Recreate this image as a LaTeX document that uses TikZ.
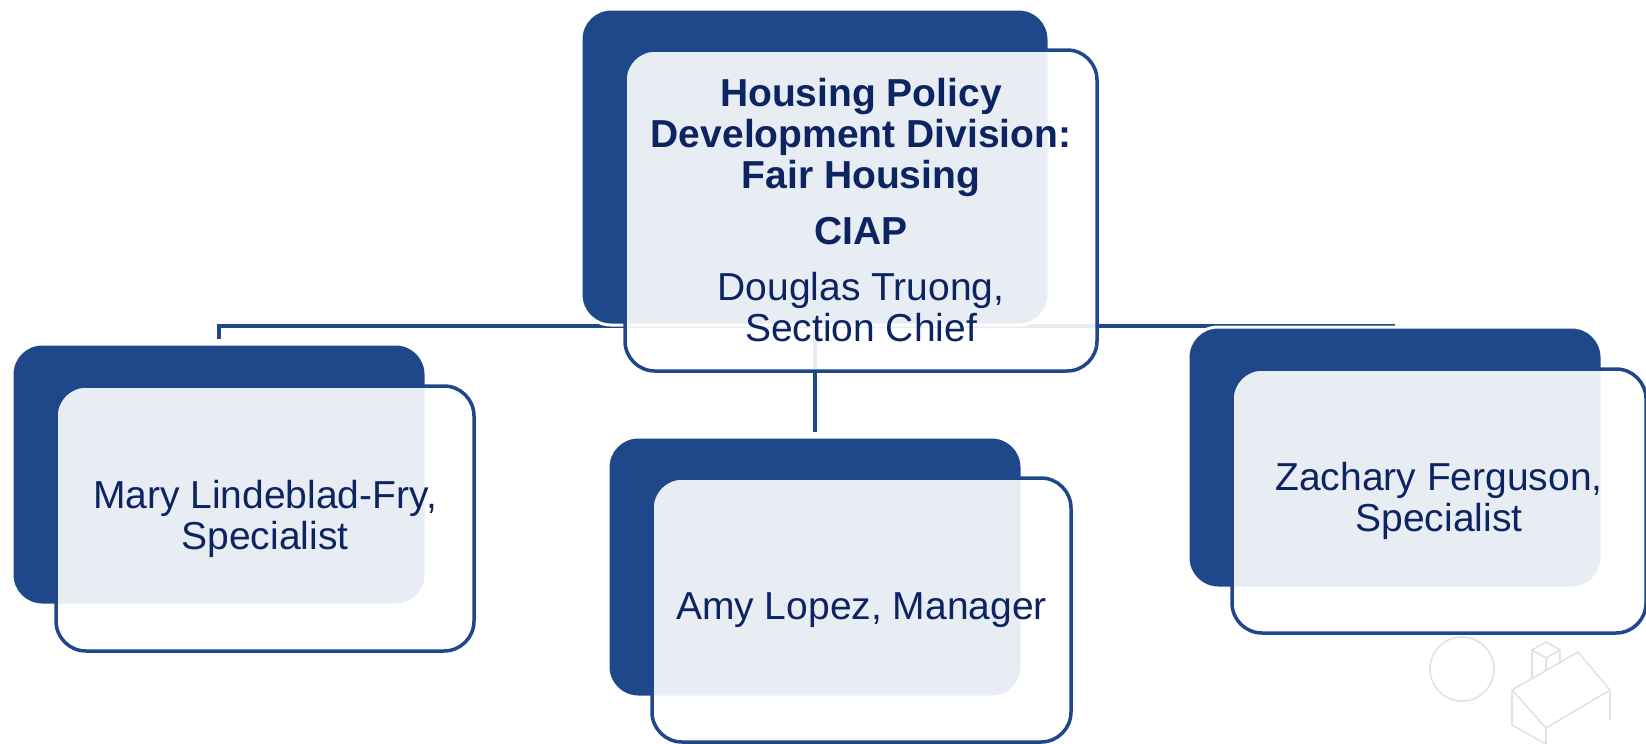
\documentclass[tikz,border=0pt]{standalone}
\usepackage{fontspec}
\setmainfont{Liberation Sans}
\usetikzlibrary{backgrounds}
\definecolor{hblue}{RGB}{30,72,138}
\definecolor{htext}{RGB}{12,36,97}
\definecolor{sketch}{RGB}{226,226,226}
\tikzset{
  backbox/.style={rectangle, rounded corners=30pt, fill=hblue, draw=white,
    line width=3pt, inner sep=0pt},
  frontbox/.style={rectangle, rounded corners=30pt, fill=white, fill opacity=0.9,
    text opacity=1, draw=hblue, line width=3.5pt, text=htext, inner sep=0pt,
    align=center, font=\fontsize{39}{41}\selectfont},
  link/.style={draw=hblue, line width=3.5pt},
  sketchline/.style={draw=sketch, line width=1.6pt}
}
\begin{document}
\begin{tikzpicture}[x=1pt, y=-1pt]
\useasboundingbox (0,0) rectangle (1646,744);

% top: division head
\node[backbox, minimum width=468pt, minimum height=316pt] (topback) at (815,167) {};
\node[frontbox, minimum width=472pt, minimum height=321pt] (topfront) at (861,210.5)
  {\textbf{Housing Policy}\\\textbf{Development Division:}\\\textbf{Fair Housing}\\[15pt]
   \textbf{CIAP}\\[15pt]Douglas Truong,\\Section Chief};

% left report
\node[backbox, minimum width=414pt, minimum height=261pt] (leftback) at (219,474.5) {};
\node[frontbox, minimum width=418pt, minimum height=265pt] (leftfront) at (265,518.5)
  {Mary Lindeblad-Fry,\\Specialist};

% centre report
\node[backbox, minimum width=414pt, minimum height=260pt] (midback) at (815,567) {};
\node[frontbox, minimum width=419pt, minimum height=264pt] (midfront) at (861.5,610)
  {Amy Lopez, Manager};

% right report
\node[backbox, minimum width=414pt, minimum height=261pt] (rightback) at (1395,457.5) {};
\node[frontbox, minimum width=414pt, minimum height=264pt] (rightfront) at (1439,501)
  {Zachary Ferguson,\\Specialist};

\coordinate (bus) at (815,326);

\begin{scope}[on background layer]
  % faint house sketch in the lower right corner
  \draw[sketchline] (1462,669) circle (32pt);
  \draw[sketchline] (1512,690) -- (1578,652) -- (1610,690) -- (1546,728) -- cycle;
  \draw[sketchline] (1512,690) -- (1512,725) -- (1546,744);
  \draw[sketchline] (1546,728) -- (1546,744);
  \draw[sketchline] (1610,690) -- (1610,720);
  \draw[sketchline] (1532,678) -- (1532,650) -- (1546,642) -- (1560,650) -- (1560,664);
  \draw[sketchline] (1532,650) -- (1546,658) -- (1560,650);
  \draw[sketchline] (1546,658) -- (1546,670);

  % reporting lines
  \draw[link] (topback.center) -- (bus);
  \draw[link] (bus) -| ([yshift=4pt]leftback.north);
  \draw[link] (bus) -- ([yshift=4pt]midback.north);
  \draw[link] (bus) -- (rightback.north |- bus);
\end{scope}
\end{tikzpicture}
\end{document}
